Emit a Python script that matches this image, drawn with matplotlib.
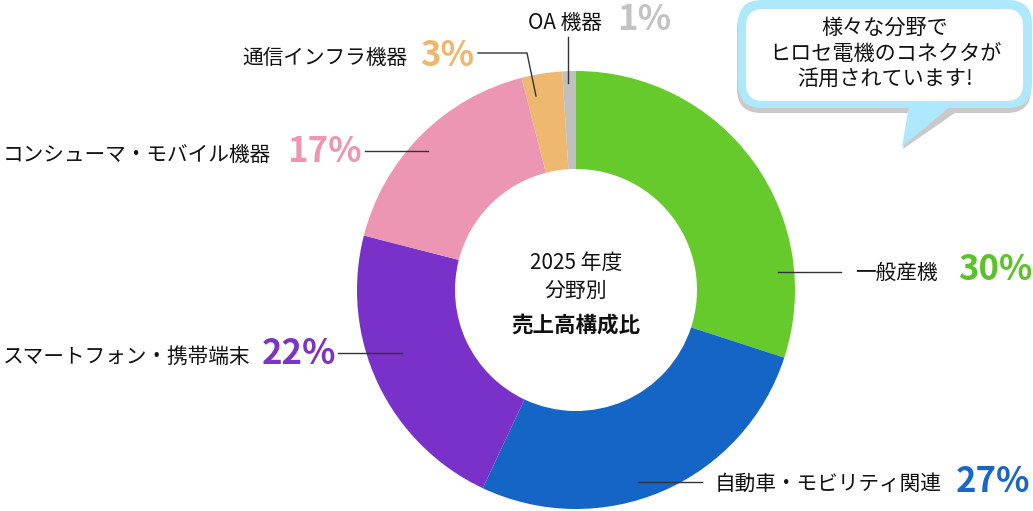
import numpy as np
from matplotlib import pyplot as plt
from matplotlib.patches import FancyBboxPatch, Polygon

plt.rcParams['font.family'] = ['Noto Sans CJK JP', 'DejaVu Sans']

# data
categories = ['一般産機', '自動車・モビリティ関連', 'スマートフォン・携帯端末',
              'コンシューマ・モバイル機器', '通信インフラ機器', 'OA 機器']
shares = [30, 27, 22, 17, 3, 1]
colors = ['#66c92c', '#1565c6', '#7a31c9', '#ec96b3', '#eeb870', '#c0c0c0']
pct_colors = ['#5cc22a', '#1a66c6', '#7a35c6', '#ec96b4', '#eeb76c', '#c3c3c3']
center_lines = ['2025 年度', '分野別', '売上高構成比']
bubble_lines = ['様々な分野で', 'ヒロセ電機のコネクタが', '活用されています!']

W, H = 1033, 511
fig = plt.figure(figsize=(W / 100, H / 100), dpi=100)
ax = fig.add_axes([0, 0, 1, 1])

cx, cy, R, ring = 576, 290, 219, 98
ax.pie(shares, colors=colors, center=(cx, cy), radius=R, startangle=-90,
       counterclock=True, wedgeprops=dict(width=ring, linewidth=0))

ax.set_xlim(0, W)
ax.set_ylim(H, 0)
ax.set_aspect('equal')
ax.set_axis_off()

# center text
ax.text(cx, 263, center_lines[0], ha='center', va='center', fontsize=15, color='#111')
ax.text(cx, 291, center_lines[1], ha='center', va='center', fontsize=15, color='#111')
ax.text(cx, 325, center_lines[2], ha='center', va='center', fontsize=15.5,
        fontweight='bold', color='#111')

# labels: (text x, pct x, y)
label_pos = [(855, 958, 271), (715, 956, 482), (3, 262, 355),
             (3, 287, 153), (242, 420, 56), (528, 617, 21)]
for cat, share, pc, (tx, px, y) in zip(categories, shares, pct_colors, label_pos):
    ax.text(tx, y + 2, cat, ha='left', va='center', fontsize=14.9, color='#111')
    ax.text(px, y - 1, '%d%%' % share, ha='left', va='center',
            fontsize=25, fontweight='bold', color=pc)

# leader lines
lc = dict(color='#333333', lw=1, zorder=5)
ax.plot([778, 841], [272, 272], **lc)
ax.plot([638, 702], [482, 482], **lc)
ax.plot([338, 402], [353, 353], **lc)
ax.plot([365, 428], [151, 151], **lc)
ax.plot([478, 527, 536], [53, 53, 96], **lc)
ax.plot([568, 568], [37, 83], **lc)

# speech bubble
shadow = FancyBboxPatch((737, 5), 294, 108, boxstyle='round,pad=0,rounding_size=24',
                        fc='#c9c9c9', ec='none', zorder=6)
ax.add_patch(shadow)
ax.add_patch(Polygon([(912, 108), (962, 108), (903, 149)], closed=True,
                     fc='#c9c9c9', ec='none', zorder=6))
outer = FancyBboxPatch((738, 0), 294, 108, boxstyle='round,pad=0,rounding_size=24',
                       fc='#aee8fc', ec='none', zorder=7)
ax.add_patch(outer)
ax.add_patch(Polygon([(910, 100), (958, 100), (902, 147)], closed=True,
                     fc='#aee8fc', ec='none', zorder=7))
inner = FancyBboxPatch((746, 9), 277, 92, boxstyle='round,pad=0,rounding_size=17',
                       fc='white', ec='none', zorder=8)
ax.add_patch(inner)
for i, line in enumerate(bubble_lines):
    ax.text(885, 28 + i * 25.5, line, ha='center', va='center', fontsize=15.2,
            color='#111', zorder=9)

fig.savefig('out.png', dpi=100)
